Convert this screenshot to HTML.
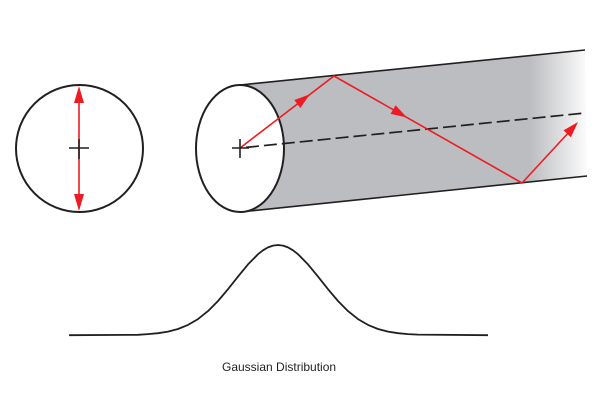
<!DOCTYPE html>
<html>
<head>
<meta charset="utf-8">
<style>
  html, body { margin: 0; padding: 0; background: #ffffff; }
  body { width: 600px; height: 400px; overflow: hidden; }
  svg { display: block; }
</style>
</head>
<body>
<svg width="600" height="400" viewBox="0 0 600 400" xmlns="http://www.w3.org/2000/svg">
  <defs>
    <linearGradient id="fade" gradientUnits="userSpaceOnUse" x1="530" y1="0" x2="590" y2="0">
      <stop offset="0" stop-color="#bcbdc0"/>
      <stop offset="1" stop-color="#ffffff"/>
    </linearGradient>
  </defs>

  <!-- Left circle -->
  <circle cx="79.5" cy="148.5" r="63.5" fill="#ffffff" stroke="#231f20" stroke-width="2"/>
  <line x1="79" y1="100" x2="79" y2="197" stroke="#ed1c24" stroke-width="1.6"/>
  <polygon points="79,86 74,103 84,103" fill="#ed1c24"/>
  <polygon points="79,211 74,194 84,194" fill="#ed1c24"/>
  <line x1="69" y1="148" x2="89" y2="148" stroke="#231f20" stroke-width="1.6"/>
  <line x1="79" y1="139" x2="79" y2="159" stroke="#231f20" stroke-width="1.6"/>

  <!-- Cylinder body -->
  <path d="M240,85 L585,50 L587,176 L240,212 Z" fill="url(#fade)"/>
  <line x1="240" y1="85" x2="585" y2="50" stroke="#231f20" stroke-width="1.6"/>
  <line x1="240" y1="212" x2="587" y2="176" stroke="#231f20" stroke-width="1.6"/>

  <!-- Front ellipse -->
  <ellipse cx="240" cy="148.5" rx="44" ry="63.5" fill="#ffffff" stroke="#231f20" stroke-width="2"/>

  <!-- Dashed axis -->
  <line x1="246" y1="147.4" x2="585" y2="113" stroke="#231f20" stroke-width="1.7" stroke-dasharray="13,5"/>

  <!-- Red ray path -->
  <polyline points="240,148 334,76 522,183 570,131" fill="none" stroke="#ed1c24" stroke-width="1.6" stroke-linejoin="miter"/>
  <polygon points="310,94.3 300.3,108 294.3,100" fill="#ed1c24"/>
  <polygon points="407,117.5 390.6,113.9 395.6,105.3" fill="#ed1c24"/>
  <polygon points="578,122 570.9,137.2 563.5,130.4" fill="#ed1c24"/>

  <!-- Cross on ellipse -->
  <line x1="232" y1="148" x2="249" y2="148" stroke="#231f20" stroke-width="1.6"/>
  <line x1="240" y1="139" x2="240" y2="158" stroke="#231f20" stroke-width="1.6"/>

  <!-- Gaussian curve -->
  <polyline points="69,335.2 138,334.8 148,334.1 158,333.2 168,331.6 178,329.0 188,324.9 198,319.1 208,311.1 218,301.0 228,289.2 238,276.6 248,264.4 258,254.2 263,250.3 268,247.4 273,245.6 278,245 283,245.6 288,247.4 293,250.3 298,254.2 308,264.4 318,276.6 328,289.2 338,301.0 348,311.1 358,319.1 368,324.9 378,329.0 388,331.6 398,333.2 408,334.1 418,334.6 488,335.2"
        fill="none" stroke="#231f20" stroke-width="1.8" stroke-linejoin="round"/>

  <!-- Label -->
  <text x="222" y="371" font-family="Liberation Sans, Arial, sans-serif" font-size="12" fill="#231f20">Gaussian Distribution</text>
</svg>
</body>
</html>
